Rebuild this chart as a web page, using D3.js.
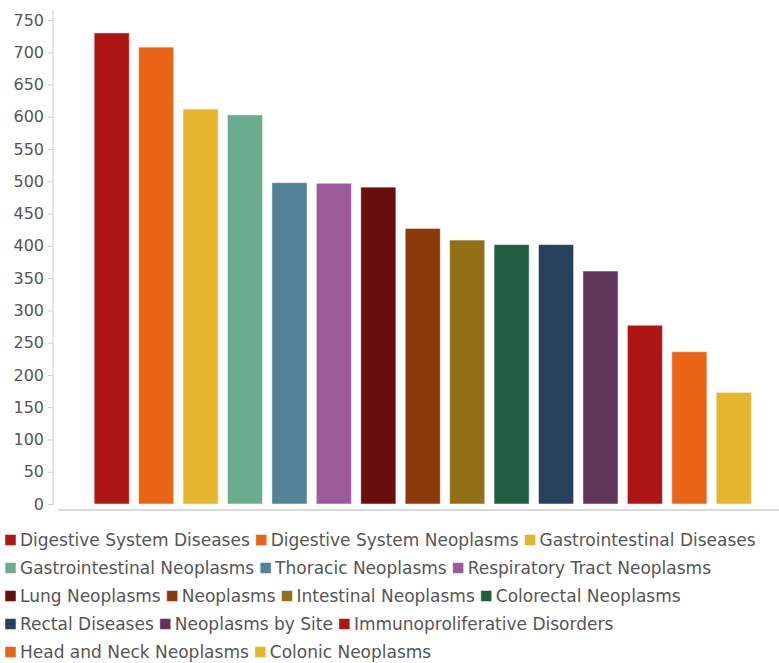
<!DOCTYPE html>
<html><head><meta charset="utf-8">
<script src="https://cdn.jsdelivr.net/npm/d3@7"></script>
<style>body{margin:0;background:#fff;} svg{display:block;font-family:"DejaVu Sans",sans-serif;}</style>
</head><body>
<svg id="c" width="779" height="663"></svg>
<script>
const categories = ["Digestive System Diseases","Digestive System Neoplasms","Gastrointestinal Diseases","Gastrointestinal Neoplasms","Thoracic Neoplasms","Respiratory Tract Neoplasms","Lung Neoplasms","Neoplasms","Intestinal Neoplasms","Colorectal Neoplasms","Rectal Diseases","Neoplasms by Site","Immunoproliferative Disorders","Head and Neck Neoplasms","Colonic Neoplasms"];
const values = [730,708,612,603,498,497,491,427,409,402,402,361,277,236,173];
const colors = ["#ae1515","#e96414","#e5b52b","#6aac8f","#548399","#9c5b9b","#6a0d0d","#8b3a0c","#917017","#225d42","#27405c","#5e3559","#ae1515","#e96414","#e5b52b"];
const yTicks = [0,50,100,150,200,250,300,350,400,450,500,550,600,650,700,750];

const svg = d3.select("#c");
const y = d3.scaleLinear().domain([0,750]).range([504,20]);
const x = d3.scaleBand().domain(categories).range([89.5,756]).paddingInner(0.21).paddingOuter(0.105);

// y axis
const ya = svg.append("g").attr("transform","translate(53,0)")
  .call(d3.axisLeft(y).tickValues(yTicks).tickSize(5).tickPadding(4).tickFormat(d3.format("d")));
ya.select(".domain").attr("d","M0,10V505").attr("stroke","#ccc");
ya.selectAll(".tick line").attr("stroke","#ccc");
ya.selectAll(".tick text").attr("fill","#555").style("font-size","16px").style("font-family","DejaVu Sans");

// x axis line
svg.append("line").attr("x1",58).attr("x2",779).attr("y1",510).attr("y2",510).attr("stroke","#ccc").attr("stroke-width",1.5);

// bars
svg.append("g").selectAll("rect").data(categories).join("rect")
  .attr("x",d=>x(d)).attr("width",x.bandwidth())
  .attr("y",(d,i)=>y(values[i])).attr("height",(d,i)=>y(0)-y(values[i]))
  .attr("fill",(d,i)=>colors[i]).attr("stroke","#fff").attr("stroke-opacity",0.5).attr("stroke-width",1);

// legend
const lg = svg.append("g");
let lx = 5, ly = 540;
const maxW = 775;
categories.forEach((c,i)=>{
  const g = lg.append("g");
  g.append("rect").attr("width",11).attr("height",11).attr("fill",colors[i]).attr("stroke","#fff").attr("stroke-opacity",0.5);
  const t = g.append("text").attr("x",15).attr("y",5.5).attr("dy","0.35em").attr("fill","#555").style("font-size","17px").text(c);
  const w = 15 + t.node().getComputedTextLength();
  if (lx + w > maxW) { lx = 5; ly += 28; }
  g.attr("transform",`translate(${lx},${ly-5.5})`);
  lx += w + 6;
});
</script>
</body></html>
